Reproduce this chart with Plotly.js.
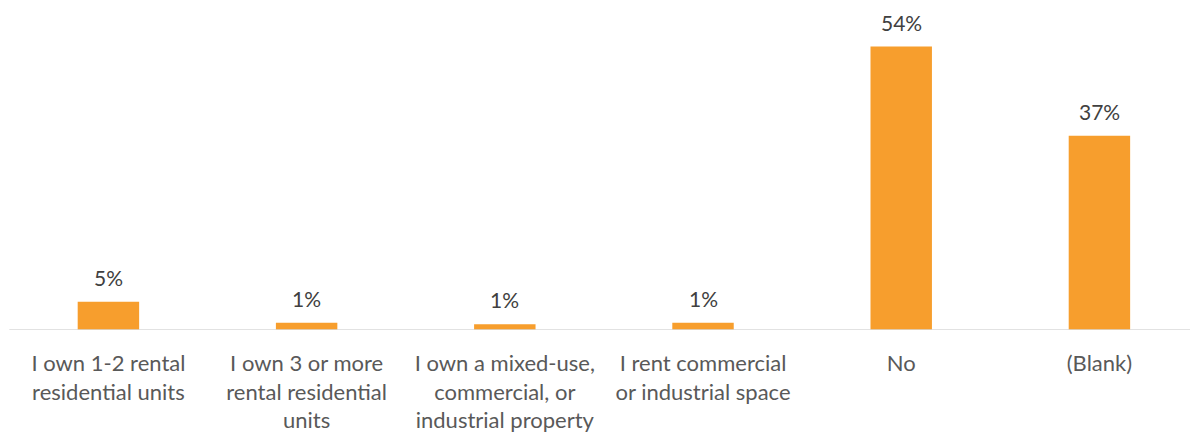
<!DOCTYPE html>
<html><head><meta charset="utf-8">
<script src="https://cdn.plot.ly/plotly-3.0.1.min.js"></script>
<style>html,body{margin:0;padding:0;background:#fff;}#chart{width:1190px;height:435px;}</style>
</head><body><div id="chart"></div>
<script>
var categories = [
  "I own 1-2 rental<br>residential units",
  "I own 3 or more<br>rental residential<br>units",
  "I own a mixed-use,<br>commercial, or<br>industrial property",
  "I rent commercial<br>or industrial space",
  "No",
  "(Blank)"
];
var values = [5.4, 1.4, 1.1, 1.4, 54, 37];
var labels = ["5%", "1%", "1%", "1%", "54%", "37%"];

var fontFam = "Lato, 'Noto Sans', sans-serif";
var trace = {
  type: "bar",
  x: categories,
  y: values,
  marker: {color: "#F79E2D"},
  width: 0.31,
  hoverinfo: "skip"
};
var annotations = categories.map(function (c, i) {
  return {x: c, y: values[i], xref: "x", yref: "y", text: labels[i], showarrow: false,
          yanchor: "bottom", yshift: 10,
          font: {family: fontFam, size: 21, color: "#404040"}};
});
var layout = {
  width: 1190, height: 435,
  margin: {l: 0, r: 0, t: 15, b: 105},
  paper_bgcolor: "#fff", plot_bgcolor: "#fff",
  showlegend: false,
  xaxis: {
    range: [-0.547, 5.457],
    showline: false, showgrid: false, zeroline: false,
    ticks: "", ticklabelstandoff: 18,
    tickfont: {family: fontFam, size: 22, color: "#595959"},
    fixedrange: true
  },
  yaxis: {
    range: [0, 60],
    visible: false, showgrid: false, zeroline: false,
    fixedrange: true
  },
  annotations: annotations,
  shapes: [{type: "line", xref: "x", yref: "y", x0: -0.5, x1: 5.46, y0: 0, y1: 0,
            line: {color: "#d9d9d9", width: 1.5}, layer: "above"}]
};
Plotly.newPlot("chart", [trace], layout, {displayModeBar: false, staticPlot: true});
</script></body></html>
